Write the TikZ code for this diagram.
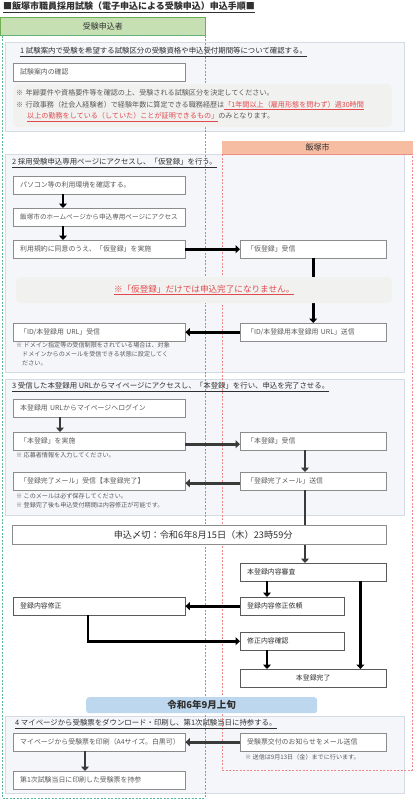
\documentclass[tikz,border=0pt]{standalone}
\usepackage{fontspec}
\setmainfont{Noto Sans CJK JP}
\usepackage{xcolor}
\usepackage{tikz}
\usetikzlibrary{arrows.meta, calc}
\definecolor{headgreen}{HTML}{C6E0B4}
\definecolor{linegreen}{HTML}{6FAE50}
\definecolor{lanegreen}{HTML}{5DB597}
\definecolor{headred}{HTML}{F6BDA3}
\definecolor{linered}{HTML}{EE8A78}
\definecolor{lanered}{HTML}{F08A8A}
\definecolor{sectfill}{HTML}{F4F6F9}
\definecolor{sectline}{HTML}{D5DBE3}
\definecolor{notefill}{HTML}{F1F1EF}
\definecolor{boxline}{HTML}{8C8C8C}
\definecolor{boxtext}{HTML}{595959}
\definecolor{darkline}{HTML}{5A5A5A}
\definecolor{darktext}{HTML}{303030}
\definecolor{notered}{HTML}{E04A4F}
\definecolor{datefill}{HTML}{BDD7EE}
\definecolor{arrowgray}{HTML}{3A3A3A}

\newcommand\procfont{\fontsize{6.9}{8}\selectfont}
\newcommand\subnotefont{\fontsize{6.1}{9}\selectfont}
\newcommand\headingfont{\fontsize{7.4}{9}\selectfont}

\tikzset{
  proc/.style={draw=boxline, fill=white, text=boxtext, font=\procfont, anchor=north west,
    minimum height=18pt, inner xsep=7pt, inner ysep=0pt, text width=#1-14pt, align=left},
  proc/.default=172pt,
  darkproc/.style={proc=#1, draw=darkline, text=darktext},
  darkproc/.default=146pt,
  sect/.style={draw=sectline, fill=sectfill, line width=0.6pt},
  lane/.style={draw=#1, line width=0.7pt, dash pattern=on 2pt off 1.5pt},
  heading/.style={anchor=west, inner sep=0pt, font=\headingfont, text=darktext},
  subnote/.style={anchor=north west, inner sep=0pt, font=\subnotefont, text=boxtext, align=left},
  flow/.style={draw=#1, line width=2.8pt, -{Triangle[length=4.5pt, width=8pt]}},
  flow/.default=black
}

\begin{document}
\begin{tikzpicture}[x=1pt, y=-1pt]
    \useasboundingbox[fill=white] (0,0) rectangle (414,800);

    % section panels
    \draw[sect] (5,42) rectangle (404,131);
    \draw[sect] (5,154) rectangle (404,372);
    \draw[sect] (5,379) rectangle (404,515);
    \draw[sect] (5,716) rectangle (404,793);

    % lanes
    \node[fill=headgreen, draw=linegreen, line width=0.6pt, anchor=north west, minimum width=205pt,
      minimum height=18pt, inner sep=0pt, font=\fontsize{8}{9}\selectfont, text=darktext] (applicant) at (0,17) {受験申込者};
    \draw[linegreen, line width=1.6pt] (applicant.south west) -- (applicant.south east);
    \draw[lane=lanegreen] (applicant.south west) ++(2,0) rectangle (205,798);
    \node[fill=headred, anchor=north west, minimum width=191pt, minimum height=13pt, inner sep=0pt,
      font=\fontsize{8}{9}\selectfont, text=darktext] (city) at (222,141) {飯塚市};
    \draw[linered, line width=1pt] (city.south west) -- (city.south east);
    \draw[lane=lanered] (city.south west) rectangle (412,770);

    \node[anchor=west, inner sep=0pt, font=\fontsize{9}{10}\selectfont\bfseries, text=darktext] (title) at (3,7)
      {\underline{■飯塚市職員採用試験（電子申込による受験申込）申込手順■}};

    % 1
    \node[heading] (h1) at (20,52) {\underline{1\ 試験案内で受験を希望する試験区分の受験資格や申込受付期間等について確認する。}};
    \node[proc] (guide) at (13,63) {試験案内の確認};
    \node[fill=notefill, rounded corners=5pt, anchor=north west, minimum width=379pt, minimum height=43pt,
      text width=373pt, inner xsep=3pt, align=left, font=\fontsize{7.1}{11.5}\selectfont, text=boxtext] (note1) at (13,84)
      {※\ 年齢要件や資格要件等を確認の上、受験される試験区分を決定してください。\\
       ※\ 行政事務（社会人経験者）で経験年数に算定できる職務経歴は{\color{notered}\underline{「1年間以上（雇用形態を問わず）週30時間}}\\
       \hspace*{11pt}{\color{notered}\underline{以上の勤務をしている（していた）ことが証明できるもの」}}のみとなります。};

    % 2
    \node[heading] (h2) at (12,163) {\underline{2\ 採用受験申込専用ページにアクセスし、「仮登録」を行う。}};
    \node[proc] (pcenv) at (13,176) {パソコン等の利用環境を確認する。};
    \node[proc, font=\fontsize{6.6}{8}\selectfont] (homepage) at (13,208) {飯塚市のホームページから申込専用ページにアクセス};
    \node[proc] (tempreg) at (13,240) {利用規約に同意のうえ、「仮登録」を実施};
    \node[proc=146pt] (tempget) at (240,240) {「仮登録」受信};
    \node[proc=146pt] (idsend) at (240,323) {「ID/本登録用本登録用 URL」送信};
    \node[proc] (idget) at (13,323) {「ID/本登録用 URL」受信};
    \node[subnote] (note2) at (16,342) {※\ ドメイン指定等の受信制限をされている場合は、対象\\
      \hspace*{6pt}ドメインからのメールを受信できる状態に設定してく\\ \hspace*{6pt}ださい。};

    % 3
    \node[heading] (h3) at (12,387) {\underline{3\ 受信した本登録用 URLからマイページにアクセスし、「本登録」を行い、申込を完了させる。}};
    \node[proc] (login) at (13,399) {本登録用 URLからマイページへログイン};
    \node[proc] (fullreg) at (13,432) {「本登録」を実施};
    \node[subnote] (note3) at (16,452) {※\ 応募者情報を入力してください。};
    \node[proc=146pt] (fullget) at (240,432) {「本登録」受信};
    \node[proc=146pt] (mailsend) at (240,472) {「登録完了メール」送信};
    \node[proc] (mailget) at (13,472) {「登録完了メール」受信【本登録完了】};
    \node[subnote] (note4) at (16,493) {※\ このメールは必ず保存してください。\\ ※\ 登録完了後も申込受付期間は内容修正が可能です。};

    % review
    \node[darkproc] (review) at (240,563) {本登録内容審査};
    \node[darkproc=104pt] (fixreq) at (240,597) {登録内容修正依頼};
    \node[darkproc=172pt] (fix) at (13,597) {登録内容修正};
    \node[darkproc=104pt] (fixcheck) at (240,632) {修正内容確認};
    \node[darkproc, align=center] (done) at (240,669) {本登録完了};

    % 4
    \node[heading] (h4) at (15,724) {\underline{4\ マイページから受験票をダウンロード・印刷し、第1次試験当日に持参する。}};
    \node[proc=146pt] (ticketmail) at (240,733) {受験票交付のお知らせをメール送信};
    \node[subnote] (note5) at (245,754) {※\ 送信は9月13日（金）までに行います。};
    \node[proc] (print) at (13,733) {マイページから受験票を印刷（A4サイズ。白黒可）};
    \node[proc] (bring) at (13,771) {第1次試験当日に印刷した受験票を持参};

    % arrows
    \draw[flow] ([xshift=50pt]pcenv.south west) -- ([xshift=50pt]homepage.north west);
    \draw[flow] ([xshift=50pt]homepage.south west) -- ([xshift=50pt]tempreg.north west);
    \draw[flow] (tempreg.east) -- (tempget.west);
    \draw[flow] (tempget.south) -- (idsend.north);
    \draw[flow] (idsend.west) -- (idget.west -| idget.east);
    \draw[flow=arrowgray] ([xshift=47pt]login.south west) -- ([xshift=47pt]fullreg.north west);
    \draw[flow=arrowgray] ([yshift=-3pt]fullreg.east) -- ([yshift=-3pt]fullget.west);
    \draw[flow=arrowgray] ([xshift=65pt]fullget.south west) -- ([xshift=65pt]mailsend.north west);
    \draw[flow=arrowgray] ([yshift=-2pt]mailsend.west) -- ([yshift=-2pt]mailget.east);
    \draw[flow=arrowgray] ([xshift=65pt]mailsend.south west) -- ([xshift=65pt]review.north west);
    \draw[flow] ([xshift=27pt]review.south west) -- ([xshift=27pt]fixreq.north west);
    \draw[flow] ([xshift=-26pt]review.south east) -- ([xshift=-26pt]done.north east);
    \draw[flow] (fixreq.west) -- (fix.east);
    \draw[flow] ([xshift=75pt]fix.south west) |- (fixcheck.west);
    \draw[flow] ([xshift=27pt]fixcheck.south west) -- ([xshift=27pt]done.north west);
    \draw[flow=arrowgray] (ticketmail.west) -- (print.east);
    \draw[flow=arrowgray] ([xshift=72pt]print.south west) -- ([xshift=72pt]bring.north west);

    % boxes over the arrows
    \node[fill=notefill, rounded corners=5pt, anchor=north west, minimum width=376pt, minimum height=26pt,
      font=\fontsize{8.6}{10}\selectfont, text=notered] (notreg) at (16,277) {\underline{※「仮登録」だけでは申込完了になりません。}};
    \node[draw=boxline, fill=white, anchor=north west, minimum width=374pt, minimum height=19pt, inner sep=0pt,
      font=\fontsize{9.2}{10}\selectfont, text=darktext] (deadline) at (12,525) {\hspace*{8pt}申込〆切：令和6年8月15日（木）23時59分};
    \node[fill=datefill, rounded corners=3pt, anchor=north west, minimum width=231pt, minimum height=16pt, inner sep=0pt,
      font=\fontsize{9.5}{10}\selectfont\bfseries, text=darktext] (septdate) at (86,697) {令和6年9月上旬};
\end{tikzpicture}
\end{document}
